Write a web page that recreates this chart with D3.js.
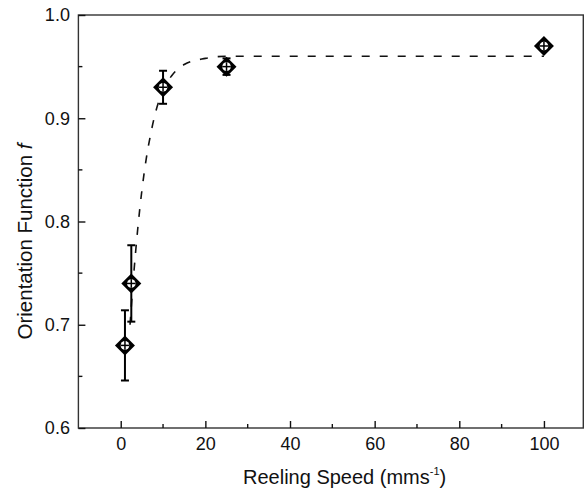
<!DOCTYPE html>
<html><head><meta charset="utf-8">
<script src="https://cdn.jsdelivr.net/npm/d3@7"></script>
<style>body{margin:0;background:#fff}svg{display:block}text{font-family:"Liberation Sans",Arial,sans-serif}</style>
</head><body>
<svg id="c" width="586" height="489"></svg>
<script>
// Data points (reeling speed, orientation function, error low, error high)
const speeds = [1, 2.5, 10, 25, 100];
const orient = [0.680, 0.740, 0.930, 0.950, 0.970];
const errLow = [0.646, 0.703, 0.914, 0.942, 0.970];
const errHigh = [0.714, 0.777, 0.946, 0.958, 0.970];
// dashed fit curve
const fitX = [2.2, 3, 4, 5, 6, 7, 8, 10, 12, 15, 20, 25, 100];
const fitY = [0.700, 0.745, 0.792, 0.830, 0.860, 0.883, 0.902, 0.927, 0.941, 0.952, 0.958, 0.960, 0.960];
const xTicks = [0, 20, 40, 60, 80, 100];
const xMinor = [10, 30, 50, 70, 90];
const yTicks = [0.6, 0.7, 0.8, 0.9, 1.0];
const yMinor = [0.65, 0.75, 0.85, 0.95];

const L = 78.4, R = 583.3, T = 15, B = 428;
const x = d3.scaleLinear().domain([-10, 109.3]).range([L, R]);
const y = d3.scaleLinear().domain([0.6, 1.0]).range([B, T]);
const svg = d3.select("#c");

// frame
svg.append("rect").attr("x", L).attr("y", T).attr("width", R - L).attr("height", B - T)
  .attr("fill", "none").attr("stroke", "#333").attr("stroke-width", 1.4);

// x axis
const xa = svg.append("g").attr("transform", `translate(0,${B})`)
  .call(d3.axisBottom(x).tickValues(xTicks).tickSize(-7).tickPadding(9).tickFormat(d3.format("d")));
xa.select(".domain").remove();
xa.selectAll("line").attr("stroke", "#111").attr("stroke-width", 1.4);
xa.selectAll("text").attr("font-size", 18).attr("fill", "#111");
svg.append("g").selectAll("line").data(xMinor).join("line")
  .attr("x1", d => x(d)).attr("x2", d => x(d)).attr("y1", B).attr("y2", B - 4)
  .attr("stroke", "#111").attr("stroke-width", 1.4);

// y axis
const ya = svg.append("g").attr("transform", `translate(${L},0)`)
  .call(d3.axisLeft(y).tickValues(yTicks).tickSize(-7).tickPadding(8.5).tickFormat(d3.format(".1f")));
ya.select(".domain").remove();
ya.selectAll("line").attr("stroke", "#111").attr("stroke-width", 1.4);
ya.selectAll("text").attr("font-size", 18).attr("fill", "#111");
svg.append("g").selectAll("line").data(yMinor).join("line")
  .attr("x1", L).attr("x2", L + 4).attr("y1", d => y(d)).attr("y2", d => y(d))
  .attr("stroke", "#111").attr("stroke-width", 1.4);

// fit curve
const fit = fitX.map((v, i) => [v, fitY[i]]);
svg.append("path").datum(fit)
  .attr("d", d3.line().x(d => x(d[0])).y(d => y(d[1])).curve(d3.curveMonotoneX))
  .attr("fill", "none").attr("stroke", "#111").attr("stroke-width", 1.6)
  .attr("stroke-dasharray", "8,10");

// error bars
const pts = speeds.map((s, i) => ({s, v: orient[i], lo: errLow[i], hi: errHigh[i]}));
const eb = svg.append("g").attr("stroke", "#000").attr("stroke-width", 2);
pts.forEach(p => {
  if (p.hi - p.lo < 0.001) return;
  eb.append("line").attr("x1", x(p.s)).attr("x2", x(p.s)).attr("y1", y(p.lo)).attr("y2", y(p.hi));
  [p.lo, p.hi].forEach(v => eb.append("line").attr("x1", x(p.s) - 4).attr("x2", x(p.s) + 4)
    .attr("y1", y(v)).attr("y2", y(v)));
});

// markers
const mk = svg.append("g").selectAll("g").data(pts).join("g")
  .attr("transform", d => `translate(${x(d.s)},${y(d.v)})`);
const r = 10;
mk.append("path").attr("d", `M0,${-r}L${r},0L0,${r}L${-r},0Z`).attr("fill", "#000");
mk.append("circle").attr("r", 4.3).attr("fill", "#fff");
mk.append("line").attr("x1", -4.3).attr("x2", 4.3).attr("stroke", "#000").attr("stroke-width", 1.5);
mk.append("line").attr("y1", -4.3).attr("y2", 4.3).attr("stroke", "#000").attr("stroke-width", 1.5);

// axis titles
const xt = svg.append("text").attr("x", 243).attr("y", 484).attr("text-anchor", "start")
  .attr("font-size", 20).attr("fill", "#111");
xt.append("tspan").text("Reeling Speed (mms");
xt.append("tspan").attr("font-size", 11).attr("dy", -9).text("-1");
xt.append("tspan").attr("dy", 9).text(")");

const yt = svg.append("text").attr("transform", "translate(32,241.5) rotate(-90)")
  .attr("text-anchor", "middle").attr("font-size", 20.5).attr("fill", "#111");
yt.append("tspan").text("Orientation Function ");
yt.append("tspan").attr("font-style", "italic").text("f");
</script>
</body></html>
